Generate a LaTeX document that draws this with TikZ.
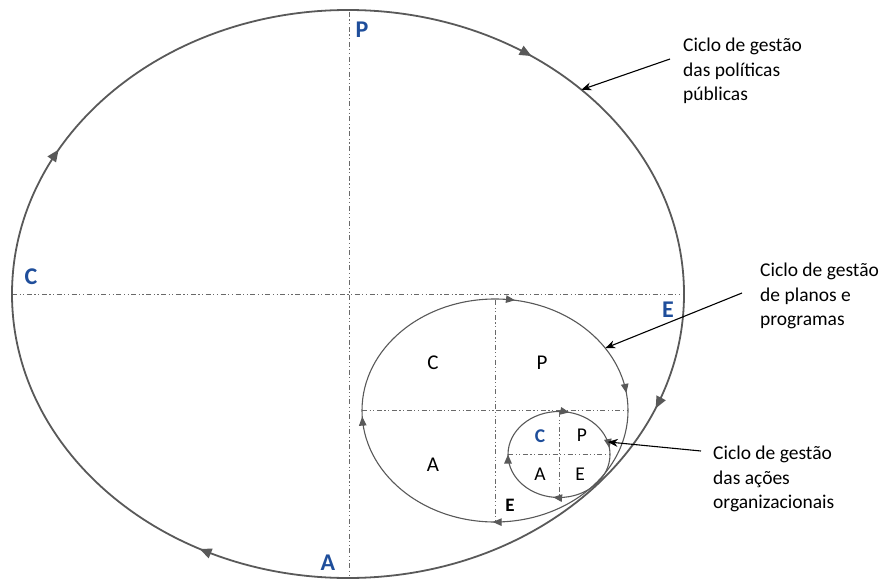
\documentclass[tikz,border=0pt]{standalone}
\usepackage{fontspec}
\setmainfont{Carlito}
\usetikzlibrary{arrows.meta,decorations.markings,calc}
\definecolor{cyclegray}{RGB}{89,89,89}
\definecolor{axisgray}{RGB}{105,105,105}
\definecolor{letterblue}{RGB}{31,78,155}
\begin{document}
\begin{tikzpicture}[x=1pt,y=1pt,
  bigcycle/.style={draw=cyclegray, line width=1.8pt},
  subcycle/.style={draw=cyclegray, line width=1.1pt},
  axisline/.style={draw=axisgray, line width=1pt, dash pattern=on 5pt off 2.5pt on 1.2pt off 2.5pt on 1.2pt off 2.5pt},
  bigletter/.style={font=\fontsize{24}{28}\selectfont\bfseries, text=letterblue, inner sep=0pt},
  midletter/.style={font=\fontsize{21}{25}\selectfont, inner sep=0pt},
  smallletter/.style={font=\fontsize{19.5}{23}\selectfont, inner sep=0pt},
  callouttext/.style={font=\fontsize{19.5}{24.5}\selectfont, align=left, anchor=west, inner sep=0pt},
  callout/.style={draw=black, line width=1.1pt, -{Stealth[length=10pt,width=8pt]}}
]
\useasboundingbox (0,0) rectangle (882,579);

% centres
\coordinate (bigc) at (348,285);
\coordinate (midc) at (495,168.5);
\coordinate (smc) at (559,124.5);

% axes
\draw[axisline] (12,285) -- (684,285);
\draw[axisline] (349,567) -- (349,2);
\draw[axisline] (362,168.5) -- (628,168.5);
\draw[axisline] (495,279) -- (495,57);
\draw[axisline] (508,124.5) -- (610,124.5);
\draw[axisline] (559,167) -- (559,82);

% big cycle
\draw[bigcycle, postaction={decorate}, decoration={markings,
  mark=at position 0.098 with {\arrow{Triangle[length=12pt,width=10pt]}},
  mark=at position 0.311 with {\arrow{Triangle[length=12pt,width=10pt]}},
  mark=at position 0.578 with {\arrow{Triangle[length=12pt,width=10pt]}},
  mark=at position 0.829 with {\arrow{Triangle[length=12pt,width=10pt]}}}]
  (348,569) arc[start angle=90, delta angle=-360, x radius=336pt, y radius=284pt];

% middle cycle
\draw[subcycle, postaction={decorate}, decoration={markings,
  mark=at position 0.026 with {\arrow{Triangle[length=9pt,width=7.5pt]}},
  mark=at position 0.227 with {\arrow{Triangle[length=9pt,width=7.5pt]}},
  mark=at position 0.503 with {\arrow{Triangle[length=9pt,width=7.5pt]}},
  mark=at position 0.742 with {\arrow{Triangle[length=9pt,width=7.5pt]}}}]
  (495,280) arc[start angle=90, delta angle=-360, x radius=133pt, y radius=111.5pt];

% small cycle
\draw[subcycle, postaction={decorate}, decoration={markings,
  mark=at position 0.035 with {\arrow{Triangle[length=9pt,width=7.5pt]}},
  mark=at position 0.228 with {\arrow{Triangle[length=9pt,width=7.5pt]}},
  mark=at position 0.52 with {\arrow{Triangle[length=9pt,width=7.5pt]}},
  mark=at position 0.75 with {\arrow{Triangle[length=9pt,width=7.5pt]}}}]
  (559,167.5) arc[start angle=90, delta angle=-360, x radius=51pt, y radius=43pt];

% big letters
\node[bigletter] (bigP) at (362,549) {P};
\node[bigletter] (bigC) at (31,302) {C};
\node[bigletter] (bigE) at (668,269) {E};
\node[bigletter] (bigA) at (328,16) {A};

% middle letters
\node[midletter] (midC) at (433,216) {C};
\node[midletter] (midP) at (542,216) {P};
\node[midletter] (midA) at (433,114) {A};
\node[midletter, font=\fontsize{19}{23}\selectfont\bfseries] (midE) at (510,73.5) {E};

% small letters
\node[smallletter, font=\fontsize{19.5}{23}\selectfont\bfseries, text=letterblue] (smC) at (540,143) {C};
\node[smallletter] (smP) at (582,144) {P};
\node[smallletter] (smA) at (540,105) {A};
\node[smallletter] (smE) at (580,105) {E};

% callout texts
\node[callouttext] (lbl1) at (683,508) {Ciclo de gestão\\das políticas\\públicas};
\node[callouttext] (lbl2) at (760,283) {Ciclo de gestão\\de planos e\\programas};
\node[callouttext] (lbl3) at (713,100) {Ciclo de gestão\\das ações\\organizacionais};

% callout connectors
\coordinate (c1s) at (670,520);
\coordinate (c2s) at (742,286);
\coordinate (c3s) at (701,128);
\coordinate (t1) at ($(bigc)+(46:336pt and 284pt)$);
\coordinate (t2) at ($(midc)+(34:133pt and 111.5pt)$);
\coordinate (t3) at ($(smc)+(17:51pt and 43pt)$);
\draw[callout] (c1s) -- (t1);
\draw[callout] (c2s) -- (t2);
\draw[callout] (c3s) -- (t3);
\end{tikzpicture}
\end{document}
